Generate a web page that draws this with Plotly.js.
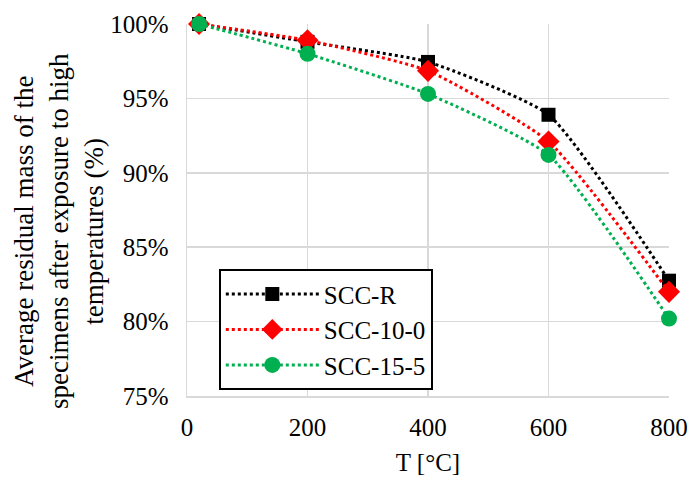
<!DOCTYPE html>
<html>
<head>
<meta charset="utf-8">
<script src="https://cdn.plot.ly/plotly-3.0.1.min.js"></script>
<style>html,body{margin:0;padding:0;background:#fff;}#chart{width:692px;height:481px;}</style>
</head>
<body>
<div id="chart"></div>
<script>
const temperatures = [20, 200, 400, 600, 800];
const seriesNames = ["SCC-R", "SCC-10-0", "SCC-15-5"];
const sccR = [100, 98.8, 97.45, 93.9, 82.75];
const scc10_0 = [100, 98.9, 96.85, 92.1, 82.0];
const scc15_5 = [100, 98.0, 95.3, 91.2, 80.2];
const yTickVals = [75, 80, 85, 90, 95, 100];
const yTickText = yTickVals.map(v => v + '%');
const xTickVals = [0, 200, 400, 600, 800];
const yTitle = 'Average residual mass of the<br>specimens after exposure to high<br>temperatures (%)';
const xTitle = 'T [°C]';

const font = 'Liberation Serif, Times New Roman, serif';

function trace(name, y, color, symbol, size) {
  return {
    x: temperatures, y: y, name: name, type: 'scatter', mode: 'lines+markers',
    cliponaxis: false,
    line: {color: color, width: 3, dash: 'dot', shape: 'spline', smoothing: 0.5},
    marker: {color: color, symbol: symbol, size: size}
  };
}

const data = [
  trace(seriesNames[0], sccR, '#000000', 'square', 14),
  trace(seriesNames[1], scc10_0, '#ff0000', 'diamond', 17),
  trace(seriesNames[2], scc15_5, '#00b050', 'circle', 16)
];

const layout = {
  width: 692, height: 481,
  margin: {l: 187, r: 23, t: 24, b: 85},
  paper_bgcolor: '#ffffff', plot_bgcolor: '#ffffff',
  font: {family: font, size: 25, color: '#000'},
  showlegend: true,
  legend: {
    x: 0.066, y: 0.341, xanchor: 'left', yanchor: 'top',
    bgcolor: '#ffffff', bordercolor: '#000000', borderwidth: 2,
    font: {family: font, size: 25, color: '#000'},
    tracegroupgap: 0, itemwidth: 93
  },
  xaxis: {
    range: [0, 800], tickvals: xTickVals, showgrid: true, gridcolor: '#d9d9d9', gridwidth: 1.5,
    showline: true, linecolor: '#d9d9d9', linewidth: 1.5, zeroline: false,
    ticks: '', ticklabelstandoff: 8, tickfont: {family: font, size: 25, color: '#000'},
    title: {text: xTitle, font: {family: font, size: 25, color: '#000'}, standoff: 14}
  },
  yaxis: {
    range: [75, 100], tickvals: yTickVals, ticktext: yTickText, showgrid: true, gridcolor: '#d9d9d9', gridwidth: 1.5,
    showline: true, linecolor: '#d9d9d9', linewidth: 1.5, zeroline: false,
    ticks: '', ticklabelstandoff: 12, tickfont: {family: font, size: 25, color: '#000'}
  },
  annotations: [{
    text: yTitle, xref: 'paper', yref: 'paper', x: -0.2656, y: 0.4435,
    xanchor: 'center', yanchor: 'middle', textangle: -90, showarrow: false,
    font: {family: font, size: 27, color: '#000'}
  }]
};

Plotly.newPlot('chart', data, layout, {displayModeBar: false, staticPlot: true});
</script>
</body>
</html>
